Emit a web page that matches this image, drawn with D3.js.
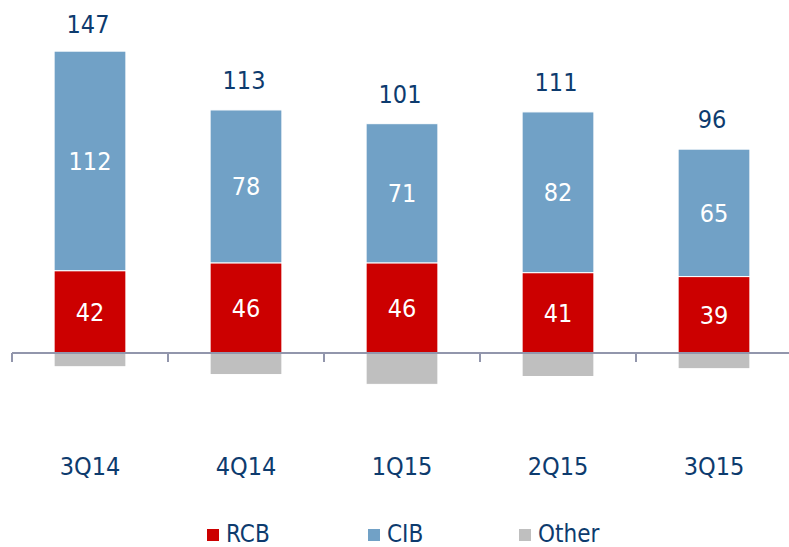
<!DOCTYPE html>
<html>
<head>
<meta charset="utf-8">
<script src="https://cdn.jsdelivr.net/npm/d3@7/dist/d3.min.js"></script>
<style>
  html, body { margin: 0; padding: 0; background: #fff; }
  svg text { font-family: "DejaVu Sans Condensed", "DejaVu Sans", sans-serif; font-stretch: condensed; }
</style>
</head>
<body>
<svg id="chart"></svg>
<script>
const quarters = ['3Q14', '4Q14', '1Q15', '2Q15', '3Q15'];
const rcb = [42, 46, 46, 41, 39];
const cib = [112, 78, 71, 82, 65];
const other = [-7, -11, -16, -12, -8];
const totals = [147, 113, 101, 111, 96];
const seriesNames = ['RCB', 'CIB', 'Other'];

const width = 789;
const height = 547;
const navy = '#0d3b6e';
const colors = { RCB: '#cc0000', CIB: '#71a1c6', Other: '#bfbfbf' };

const svg = d3.select('#chart').attr('width', width).attr('height', height);

const x = d3.scaleBand().domain(quarters).range([12, 792]).paddingInner(0.54).paddingOuter(0.27);
const y = d3.scaleLinear().domain([0, 100]).range([353, 157]);

const rows = quarters.map((q, i) => ({ q, RCB: rcb[i], CIB: cib[i], Other: other[i], total: totals[i] }));

// stacked segments: RCB on the baseline, CIB on top, Other below zero
const segments = [];
rows.forEach((r) => {
  segments.push({ q: r.q, key: 'RCB', y0: 0, y1: r.RCB, v: r.RCB });
  segments.push({ q: r.q, key: 'CIB', y0: r.RCB, y1: r.RCB + r.CIB, v: r.CIB });
  segments.push({ q: r.q, key: 'Other', y0: r.Other, y1: 0, v: r.Other });
});

svg.append('g')
  .selectAll('rect')
  .data(segments)
  .enter()
  .append('rect')
  .attr('x', (d) => x(d.q))
  .attr('width', x.bandwidth())
  .attr('y', (d) => y(d.y1))
  .attr('height', (d) => y(d.y0) - y(d.y1))
  .attr('fill', (d) => colors[d.key])
  .attr('stroke', '#fff')
  .attr('stroke-width', 1);

// axis line with ticks between categories
const tickXs = quarters.map((q) => x(q) - (x.step() - x.bandwidth()) / 2);
svg.append('line')
  .attr('x1', tickXs[0]).attr('x2', width)
  .attr('y1', y(0)).attr('y2', y(0))
  .attr('stroke', '#9296ac').attr('stroke-width', 2);
svg.append('g')
  .selectAll('line')
  .data(tickXs)
  .enter()
  .append('line')
  .attr('x1', (d) => d).attr('x2', (d) => d)
  .attr('y1', y(0)).attr('y2', y(0) + 9)
  .attr('stroke', '#9296ac').attr('stroke-width', 2);

// value labels inside segments
svg.append('g')
  .selectAll('text')
  .data(segments.filter((d) => d.key !== 'Other'))
  .enter()
  .append('text')
  .attr('x', (d) => x(d.q) + x.bandwidth() / 2)
  .attr('y', (d) => (y(d.y0) + y(d.y1)) / 2)
  .attr('dy', '0.36em')
  .attr('text-anchor', 'middle')
  .attr('fill', '#fff')
  .attr('font-size', 25)
  .text((d) => d.v);

// totals above bars
svg.append('g')
  .selectAll('text')
  .data(rows)
  .enter()
  .append('text')
  .attr('x', (d) => x(d.q) + x.bandwidth() / 2 - 2)
  .attr('y', (d) => Math.max(33, y(d.RCB + d.CIB) - 21))
  .attr('text-anchor', 'middle')
  .attr('fill', navy)
  .attr('font-size', 25)
  .text((d) => d.total);

// category labels
svg.append('g')
  .selectAll('text')
  .data(quarters)
  .enter()
  .append('text')
  .attr('x', (d) => x(d) + x.bandwidth() / 2)
  .attr('y', 475)
  .attr('text-anchor', 'middle')
  .attr('fill', navy)
  .attr('font-size', 25)
  .text((d) => d);

// legend
const legendX = [207, 368, 519];
const legend = svg.append('g')
  .selectAll('g')
  .data(seriesNames)
  .enter()
  .append('g')
  .attr('transform', (d, i) => `translate(${legendX[i]},529)`);
legend.append('rect')
  .attr('width', 12).attr('height', 12)
  .attr('fill', (d) => colors[d]);
legend.append('text')
  .attr('x', 19).attr('y', 13)
  .attr('fill', navy)
  .attr('font-size', 24)
  .text((d) => d);
</script>
</body>
</html>
